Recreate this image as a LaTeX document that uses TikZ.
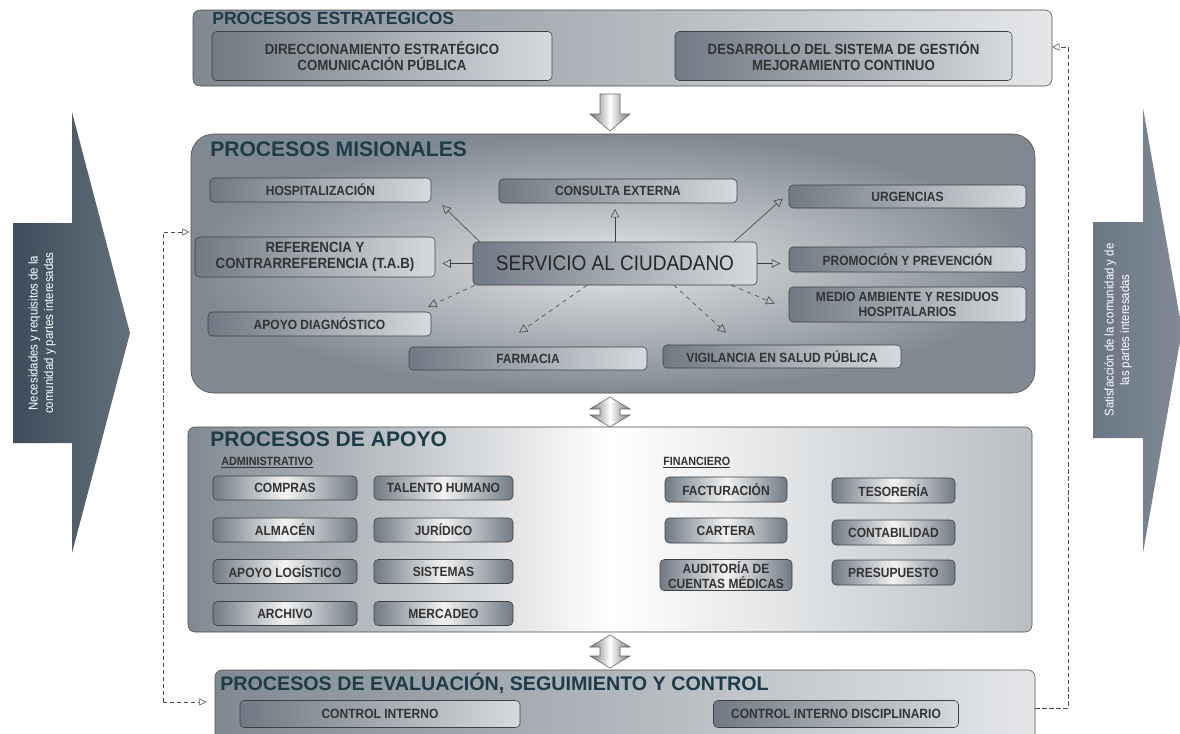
\documentclass[tikz,border=0pt]{standalone}
\usepackage{fontspec}
\setmainfont{Liberation Sans}
\newfontfamily\boxfont{Liberation Sans}[FakeStretch=0.9]
\usepackage{tikz}
\usetikzlibrary{arrows.meta,positioning}
\definecolor{title-teal}{RGB}{30,60,72}
\definecolor{proc-dark}{RGB}{112,122,132}
\definecolor{proc-light}{RGB}{214,218,222}
\definecolor{outer-dark}{RGB}{128,137,146}
\definecolor{outer-light}{RGB}{228,230,232}
\definecolor{left-arrow}{RGB}{60,76,90}
\definecolor{right-arrow}{RGB}{106,118,132}
\newcommand\boxtext{\boxfont\bfseries\fontsize{9.5}{10.5}\selectfont\color{black!80}}
\newcommand\titletext{\bfseries\fontsize{15}{16}\selectfont\color{title-teal}}
\tikzstyle{outer}=[draw=black!70, rounded corners=5pt, left color=outer-dark, right color=outer-light, inner sep=0pt]
\tikzstyle{proc}=[draw=black!75, rounded corners=3pt, left color=proc-dark, right color=proc-light, inner sep=1pt, align=center, font=\boxtext]
\tikzstyle{supp}=[draw=black!75, rounded corners=3pt, left color=proc-dark, right color=proc-dark, middle color=white!90!gray, inner sep=1pt, align=center, font=\boxtext]
\tikzstyle{head}=[anchor=north west, inner sep=0pt, font=\titletext]
\tikzstyle{solidarr}=[black!75, -{Triangle[open,length=6pt,width=6pt]}]
\tikzstyle{dasharr}=[black!75, dashed, -{Triangle[open,length=6pt,width=6pt]}]
\tikzstyle{dline}=[black!70, densely dashed, -{Triangle[open,length=5pt,width=5pt]}]
\tikzstyle{blockarr}=[draw=black!60, left color=black!55, right color=black!55, middle color=white]
\tikzset{sz/.style 2 args={minimum width=#1*0.025cm, minimum height=#2*0.025cm}}

\begin{document}
\begin{tikzpicture}[x=0.025cm, y=-0.025cm]
	\clip (0,0) rectangle (1180,733);
	\fill[white] (0,0) rectangle (1180,733);
	% entradas y salidas
	\shade[left color=left-arrow, right color=left-arrow!80!white] (13,223)--(72,223)--(72,112)--(130,333)--(72,553)--(72,443)--(13,443)--cycle;
	\node[rotate=90, align=center, text=white, font=\boxfont\fontsize{9}{11}\selectfont] (need) at (42,333) {Necesidades y requisitos de la\\comunidad y partes interesadas};
	\shade[left color=right-arrow, right color=right-arrow!85!white] (1093,222)--(1143,222)--(1143,108)--(1182,330)--(1143,553)--(1143,438)--(1093,438)--cycle;
	\node[rotate=90, align=center, text=white, font=\boxfont\fontsize{9}{11}\selectfont] (sat) at (1118,330) {Satisfacción de la comunidad y de\\las partes interesadas};
	% estrategicos
	\node[outer, sz={859}{76}] (est) at (622.5,48) {};
	\node[head, font=\bfseries\fontsize{12.5}{13}\selectfont\color{title-teal}] (estT) at (212,12) {PROCESOS ESTRATEGICOS};
	\node[proc, sz={340}{49}, font=\boxfont\bfseries\fontsize{10.5}{11.5}\selectfont\color{black!80}] (dir) at (382,56) {DIRECCIONAMIENTO ESTRATÉGICO\\COMUNICACIÓN PÚBLICA};
	\node[proc, sz={337}{49}, font=\boxfont\bfseries\fontsize{10.5}{11.5}\selectfont\color{black!80}] (des) at (843.5,56) {DESARROLLO DEL SISTEMA DE GESTIÓN\\MEJORAMIENTO CONTINUO};
	\shade[blockarr] (600,94)--(620,94)--(620,114)--(630,114)--(610,131)--(590,114)--(600,114)--cycle;
	% misionales
	\node[outer, rounded corners=16pt, inner color=outer-light, outer color=outer-dark, sz={844}{259}] (mis) at (613,263.5) {};
	\node[head] (misT) at (210,141) {PROCESOS MISIONALES};
	\node[proc, sz={221}{24}] (hosp) at (320.5,190) {HOSPITALIZACIÓN};
	\node[proc, sz={238}{24}] (cons) at (618,191) {CONSULTA EXTERNA};
	\node[proc, sz={237}{23}] (urg) at (907.5,196.5) {URGENCIAS};
	\node[proc, sz={240}{40}, font=\boxfont\bfseries\fontsize{10.5}{11.5}\selectfont\color{black!80}] (ref) at (315,257) {REFERENCIA Y\\CONTRARREFERENCIA (T.A.B)};
	\node[proc, sz={284}{43}, font=\boxfont\fontsize{15}{16}\selectfont\color{black!85}] (serv) at (615,263.5) {SERVICIO AL CIUDADANO};
	\node[proc, sz={237}{25}] (prom) at (907.5,259.5) {PROMOCIÓN Y PREVENCIÓN};
	\node[proc, sz={237}{35}] (med) at (907.5,304.5) {MEDIO AMBIENTE Y RESIDUOS\\HOSPITALARIOS};
	\node[proc, sz={223}{24}] (diag) at (319.5,324) {APOYO DIAGNÓSTICO};
	\node[proc, sz={238}{23}] (farm) at (528,358.5) {FARMACIA};
	\node[proc, sz={238}{23}] (vig) at (782,356.5) {VIGILANCIA EN SALUD PÚBLICA};
	\draw[solidarr] ([shift={(7,0)}]serv.north west) -- ([shift={(11,3)}]hosp.south east);
	\draw[solidarr] (serv.north) -- ([yshift=-4pt]serv.north |- cons.south);
	\draw[solidarr] ([shift={(-23,0)}]serv.north east) -- ([shift={(-6,-10)}]urg.south west);
	\draw[solidarr] (serv.west) -- ([xshift=5pt]serv.west -| ref.east);
	\draw[solidarr] (serv.east) -- ([xshift=-6pt]serv.east -| prom.west);
	\draw[dasharr] ([shift={(2,0)}]serv.south west) -- ([shift={(-3,-5)}]diag.north east);
	\draw[dasharr] ([shift={(-28,0)}]serv.south) -- ([shift={(-9,-14)}]farm.north);
	\draw[dasharr] ([shift={(59,0)}]serv.south) -- ([shift={(-56,-12)}]vig.north);
	\draw[dasharr] ([shift={(-26,0)}]serv.south east) -- ([shift={(-14,-1)}]med.west);
	\shade[blockarr] (610,397)--(630,409)--(620,409)--(620,415)--(630,415)--(610,427)--(590,415)--(600,415)--(600,409)--(590,409)--cycle;
	% apoyo
	\node[outer, left color=outer-dark, right color=outer-dark!55!white, middle color=white, sz={844}{205}] (apo) at (610,529.5) {};
	\node[head] (apoT) at (210,431) {PROCESOS DE APOYO};
	\node[anchor=north west, inner sep=0pt, font=\boxfont\bfseries\fontsize{8.5}{9}\selectfont\color{black!80}] (adm) at (221,457) {\underline{ADMINISTRATIVO}};
	\node[anchor=north west, inner sep=0pt, font=\boxfont\bfseries\fontsize{8.5}{9}\selectfont\color{black!80}] (fin) at (663,457) {\underline{FINANCIERO}};
	\node[supp, sz={144}{24}] (comp) at (285,488) {COMPRAS};
	\node[supp, sz={139}{24}] (tal) at (443.5,488) {TALENTO HUMANO};
	\node[supp, sz={144}{24}] (alm) at (285,530) {ALMACÉN};
	\node[supp, sz={139}{24}] (jur) at (443.5,530) {JURÍDICO};
	\node[supp, sz={144}{24}] (log) at (285,571.5) {APOYO LOGÍSTICO};
	\node[supp, sz={139}{24}] (sis) at (443.5,571.5) {SISTEMAS};
	\node[supp, sz={144}{24}] (arch) at (285,613.5) {ARCHIVO};
	\node[supp, sz={139}{24}] (merc) at (443.5,613.5) {MERCADEO};
	\node[supp, sz={122}{25}] (fact) at (726,489.5) {FACTURACIÓN};
	\node[supp, sz={122}{25}] (cart) at (726,530.5) {CARTERA};
	\node[supp, sz={132}{31}] (aud) at (726,575) {AUDITORÍA DE\\CUENTAS MÉDICAS};
	\node[supp, sz={123}{25}] (tes) at (893.5,490.5) {TESORERÍA};
	\node[supp, sz={123}{25}] (cont) at (893.5,532.5) {CONTABILIDAD};
	\node[supp, sz={123}{25}] (pres) at (893.5,572.5) {PRESUPUESTO};
	\shade[blockarr] (610,635)--(630,647)--(620,647)--(620,656)--(630,656)--(610,668)--(590,656)--(600,656)--(600,647)--(590,647)--cycle;
	% evaluacion
	\node[outer, sz={820}{80}] (eva) at (625,710) {};
	\node[head, font=\bfseries\fontsize{14}{15}\selectfont\color{title-teal}] (evaT) at (220,673) {PROCESOS DE EVALUACIÓN, SEGUIMIENTO Y CONTROL};
	\node[proc, sz={280}{27}] (ci) at (380,714) {CONTROL INTERNO};
	\node[proc, sz={245}{27}] (cid) at (836,714) {CONTROL INTERNO DISCIPLINARIO};
	% retroalimentacion
	\coordinate (lt) at (163,232);
	\coordinate (lb) at (163,702);
	\coordinate (rt) at (1068,47);
	\coordinate (rb) at (1068,708);
	\draw[dline] (lb) -- (lt) -- ([xshift=-1pt]lt -| mis.west);
	\draw[dline] (lb) -- ([xshift=-6pt]lb -| eva.west);
	\draw[dline] (rb -| eva.east) -- (rb) -- (rt) -- (rt -| est.east);
\end{tikzpicture}
\end{document}
